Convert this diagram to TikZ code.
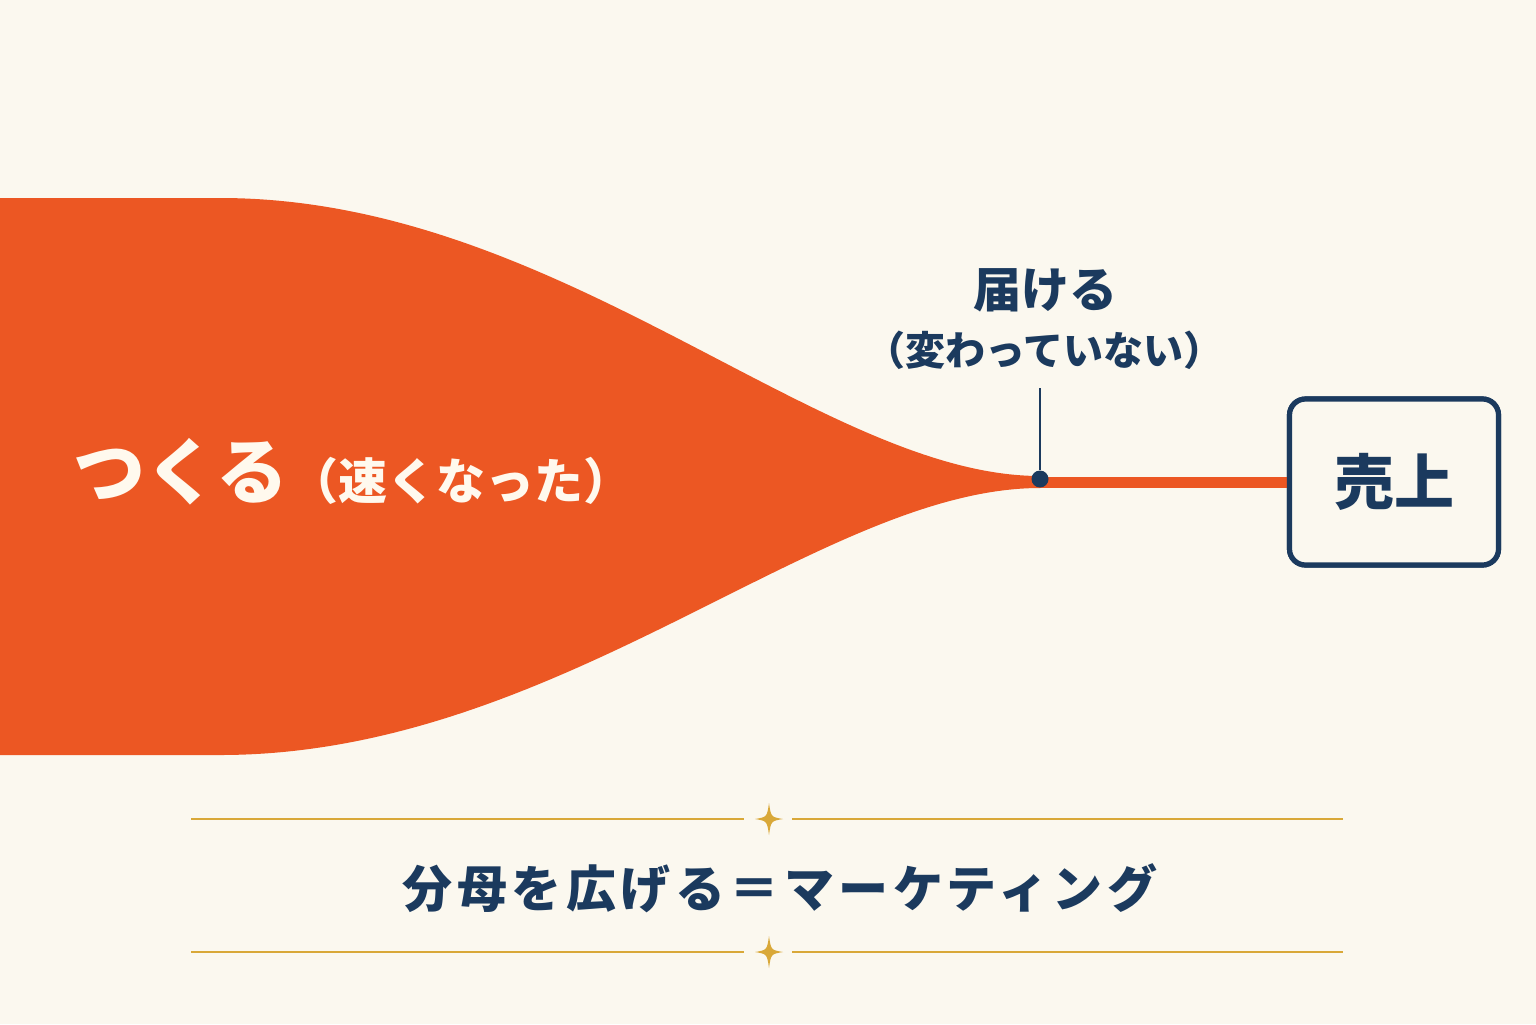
\documentclass[tikz,border=0pt]{standalone}
\usepackage{fontspec}
\newfontfamily\jp{Noto Sans CJK JP}
\usepackage{xcolor}
\definecolor{cream}{HTML}{FBF8EF}
\definecolor{flame}{HTML}{EC5723}
\definecolor{navy}{HTML}{1B3A5E}
\definecolor{gold}{HTML}{D9A838}
\definecolor{milk}{HTML}{FFF9EE}

\begin{document}
\begin{tikzpicture}[x=0.5pt,y=-0.5pt]
    \tikzstyle{funnel}=[fill=flame,draw=none]
    \tikzstyle{band}=[draw=flame,line width=5.5pt]
    \tikzstyle{leader}=[draw=navy,line width=1.4pt]
    \tikzstyle{knot}=[circle,fill=navy,inner sep=0pt,minimum size=8.5pt]
    \tikzstyle{goldline}=[draw=gold,line width=1.4pt]
    \tikzstyle{sparkle}=[fill=gold]
    \tikzstyle{salesbox}=[draw=navy,line width=2.6pt,rounded corners=8pt,fill=cream,minimum width=104.5pt,minimum height=83pt,inner sep=0pt]
    \tikzstyle{whitetext}=[text=milk,inner sep=0pt]
    \tikzstyle{navytext}=[text=navy,inner sep=0pt]
    \useasboundingbox (0,0) rectangle (1536,1024);
    \fill[cream] (0,0) rectangle (1536,1024);
    \fill[funnel] (0,198) -- (220,198) .. controls (560,198) and (820,476) .. (1040,476)
        -- (1040,488) .. controls (820,488) and (560,755) .. (220,755) -- (0,755) -- cycle;
    \coordinate (neck) at (1040,482);
    \coordinate (tick) at (1040,388);
    \node[salesbox] (sales) at (1394,482) {};
    \draw[band] (neck) -- (sales.west);
    \node[salesbox] at (sales) {};
    \node[navytext,font=\jp\bfseries\fontsize{30}{34}\selectfont] (uriage) at (sales) {売上};
    \node[knot] (dot) at (1040,479) {};
    \draw[leader] (tick) -- (dot);
    \node[navytext,font=\jp\bfseries\fontsize{24}{28}\selectfont] (deliver) at (1045,290) {届ける};
    \node[navytext,font=\jp\bfseries\fontsize{20}{24}\selectfont] (same) at (1044,350) {（変わっていない）};
    \node[whitetext,font=\jp\bfseries\fontsize{36}{40}\selectfont] (make) at (181,472) {つくる};
    \node[whitetext,font=\jp\bfseries\fontsize{24.5}{28}\selectfont] (faster) at (461,481) {（速くなった）};
    \foreach \y in {819,952} {
        \draw[goldline] (191,\y) -- (744,\y);
        \draw[goldline] (792,\y) -- (1343,\y);
        \fill[sparkle] (769,\y-16) .. controls (771,\y-2) .. (783,\y)
            .. controls (771,\y+2) .. (769,\y+16) .. controls (767,\y+2) .. (755,\y)
            .. controls (767,\y-2) .. cycle;
    }
    \node[navytext,font=\jp\bfseries\fontsize{25}{29}\selectfont\addfontfeature{LetterSpace=9}] (motto) at (780,888) {分母を広げる＝マーケティング};
\end{tikzpicture}
\end{document}
